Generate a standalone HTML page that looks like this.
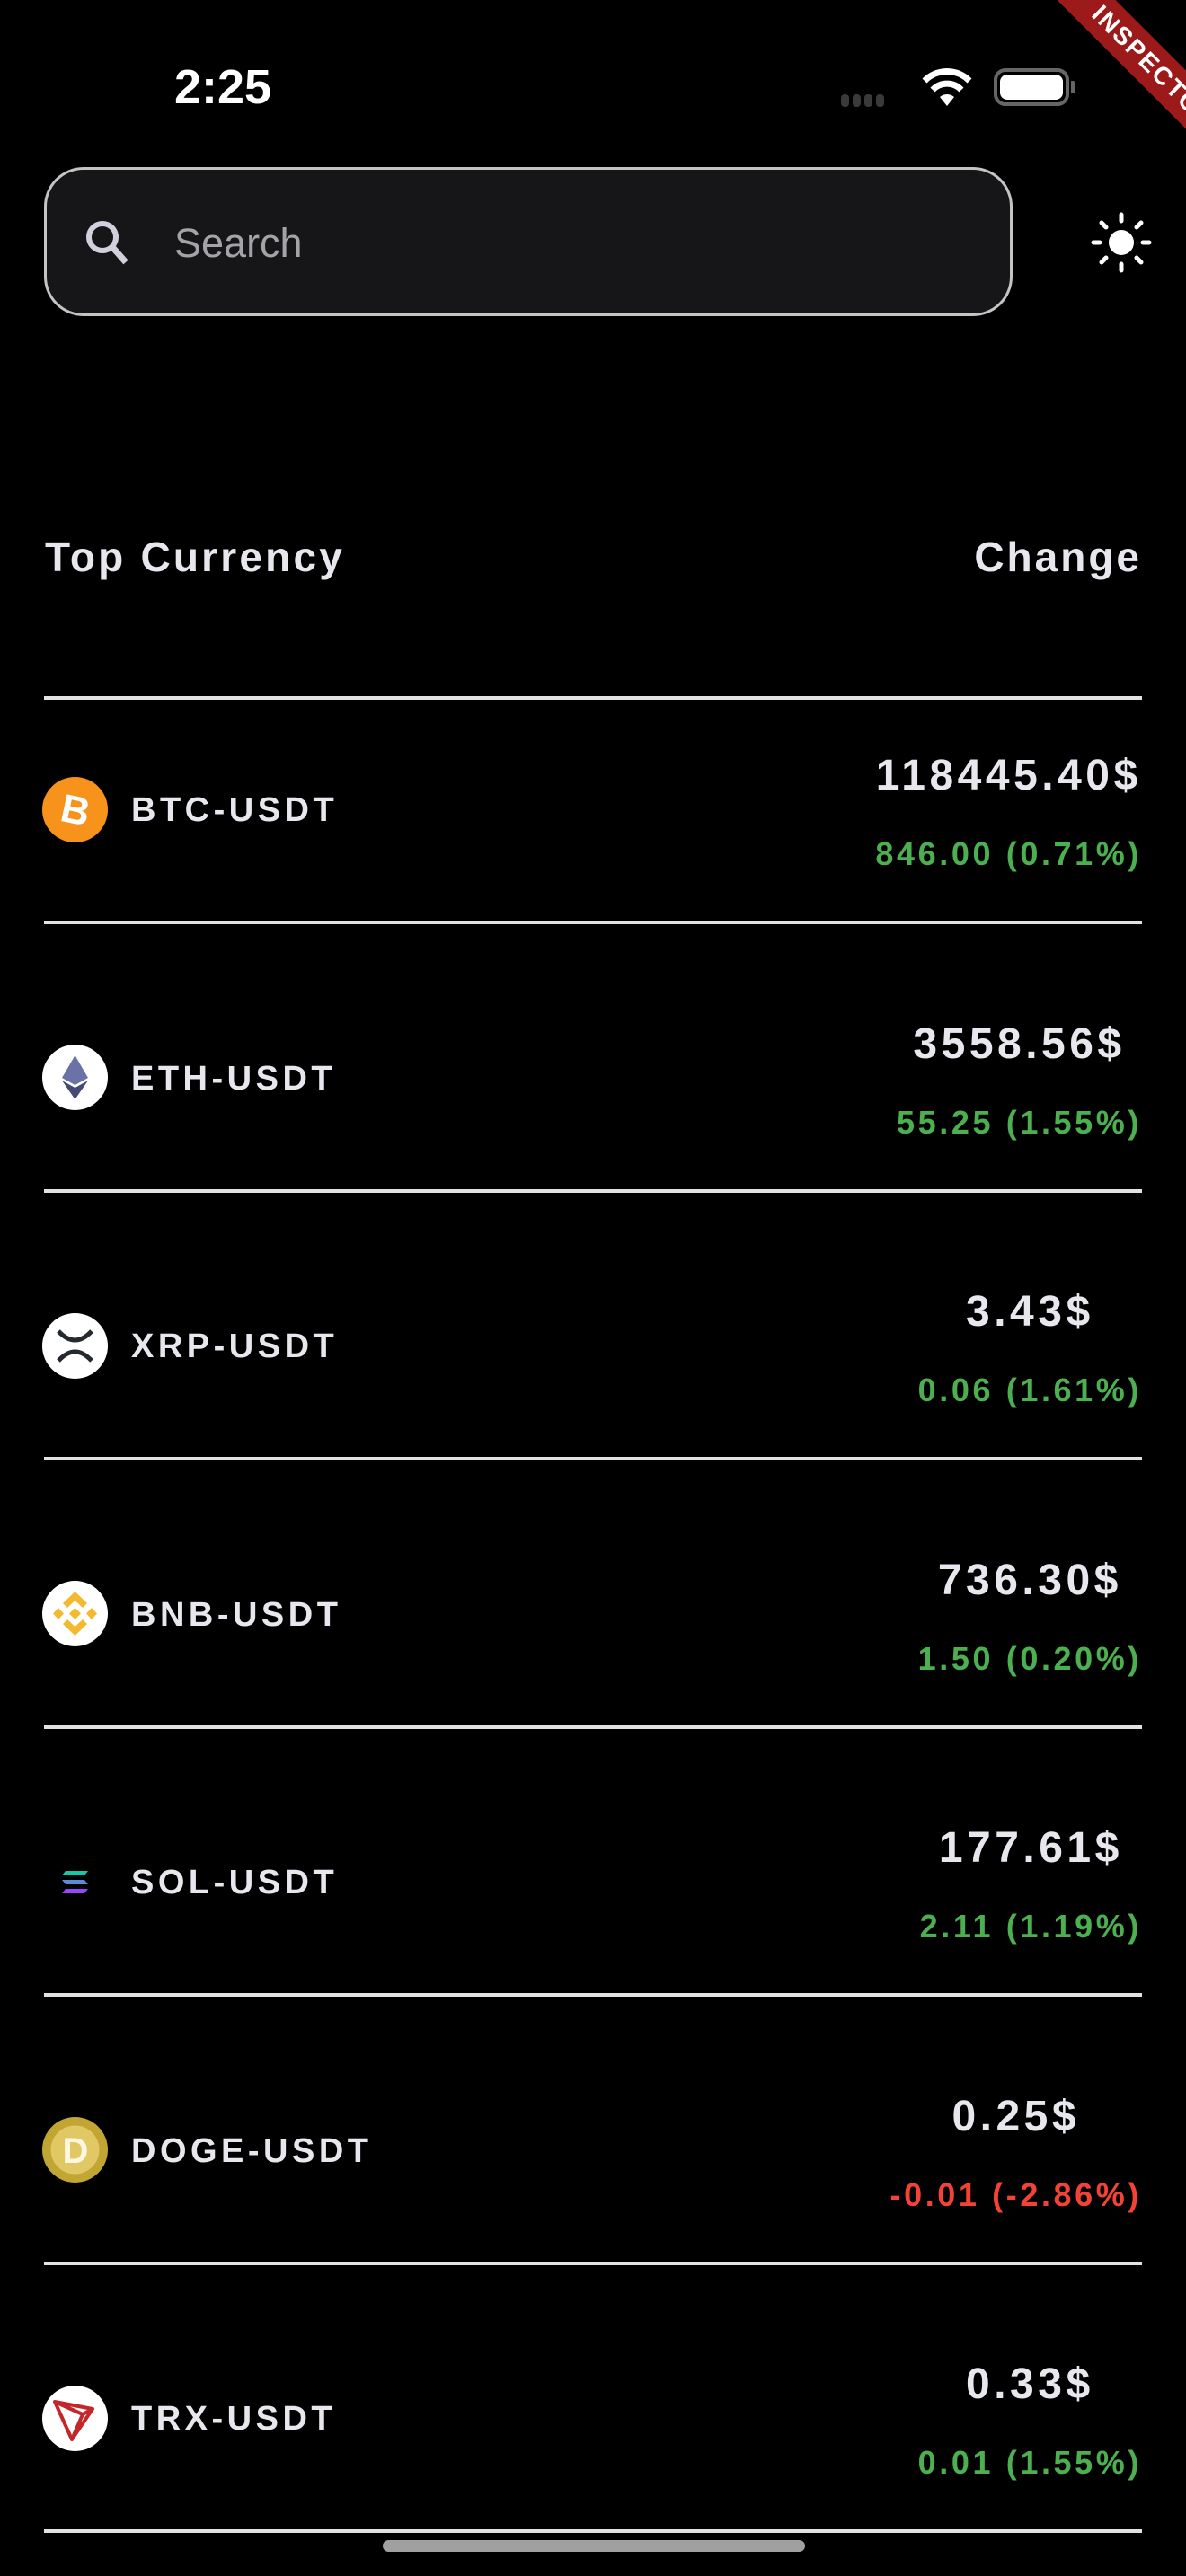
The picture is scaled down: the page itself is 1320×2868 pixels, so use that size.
<!DOCTYPE html>
<html><head><meta charset="utf-8">
<style>
*{margin:0;padding:0;box-sizing:border-box}
body{width:1320px;height:2868px;background:#000;position:relative;overflow:hidden;font-family:"Liberation Sans",sans-serif;color:#e9e7ee}
.abs{position:absolute}
.line{position:absolute;left:49px;width:1222px;height:4px;background:#e2e2e2}
.name{position:absolute;left:146px;font-weight:bold;font-size:38px;letter-spacing:4.5px;line-height:40px}
.col{position:absolute;right:49px;display:flex;flex-direction:column;align-items:center}
.price{font-weight:bold;font-size:48px;letter-spacing:4.5px;line-height:50px}
.chg{font-weight:bold;font-size:36px;letter-spacing:3.6px;line-height:40px;margin-top:42px}
.icon{position:absolute;left:47px;width:73px;height:73px;border-radius:50%}
</style></head><body>
<div class="abs" style="left:194px;top:66px;font-size:54px;font-weight:bold;color:#fff;line-height:62px">2:25</div>
<div class="abs" style="left:936px;top:105px;display:flex;gap:4px">
<div style="width:9px;height:14px;border-radius:4px;background:#3a3a3a"></div><div style="width:9px;height:14px;border-radius:4px;background:#3a3a3a"></div><div style="width:9px;height:14px;border-radius:4px;background:#3a3a3a"></div><div style="width:9px;height:14px;border-radius:4px;background:#3a3a3a"></div></div>
<svg class="abs" style="left:1024px;top:74px" width="60" height="46" viewBox="0 0 60 46"><path d="M30 44 L22 34 A12 12 0 0 1 38 34Z" fill="#fff"/><path d="M14 26 A22 22 0 0 1 46 26" stroke="#fff" stroke-width="7" fill="none"/><path d="M5 16 A35 35 0 0 1 55 16" stroke="#fff" stroke-width="7" fill="none"/></svg>
<div class="abs" style="left:1106px;top:76px;width:84px;height:42px;border:4px solid #666;border-radius:13px;padding:3px"><div style="width:100%;height:100%;background:#fff;border-radius:8px"></div></div>
<div class="abs" style="left:1192px;top:90px;width:5px;height:14px;background:#666;border-radius:0 3px 3px 0"></div>
<div class="abs" style="left:1124px;top:52px;width:320px;height:46px;background:#9c1a1a;transform:rotate(45deg);color:#fff;font-weight:bold;font-size:28px;letter-spacing:2px;text-align:center;line-height:46px">INSPECTOR</div>
<div class="abs" style="left:49px;top:186px;width:1078px;height:166px;border:3px solid #c4c4c4;border-radius:44px;background:#161618"></div>
<svg class="abs" style="left:92px;top:242px" width="56" height="56" viewBox="0 0 56 56"><circle cx="22" cy="22" r="15" stroke="#d4cfdc" stroke-width="6" fill="none"/><path d="M33 33 L48 50" stroke="#d4cfdc" stroke-width="7"/></svg>
<div class="abs" style="left:194px;top:243px;font-size:45px;color:#a4a3a8;line-height:56px">Search</div>
<svg class="abs" style="left:1214px;top:236px" width="68" height="68" viewBox="0 0 68 68"><circle cx="34" cy="34" r="14" fill="#fff"/><g stroke="#fff" stroke-width="5" stroke-linecap="round"><path d="M34 3v7M34 58v7M3 34h7M58 34h7M12 12l5 5M51 51l5 5M12 56l5-5M51 17l5-5"/></g></svg>
<div class="abs" style="left:50px;top:594px;font-size:46px;font-weight:bold;letter-spacing:3.2px;line-height:52px">Top Currency</div>
<div class="abs" style="right:49px;top:594px;font-size:46px;font-weight:bold;letter-spacing:3px;line-height:52px">Change</div>
<div id="list"></div>
<div class="abs" style="left:426px;top:2828px;width:470px;height:13px;border-radius:7px;background:#a0a0a0"></div>
<script>
const names=["BTC-USDT","ETH-USDT","XRP-USDT","BNB-USDT","SOL-USDT","DOGE-USDT","TRX-USDT"];
const prices=["118445.40$","3558.56$","3.43$","736.30$","177.61$","0.25$","0.33$"];
const changes=["846.00 (0.71%)","55.25 (1.55%)","0.06 (1.61%)","1.50 (0.20%)","2.11 (1.19%)","-0.01 (-2.86%)","0.01 (1.55%)"];
const icons={
BTC:'<svg width="73" height="73" viewBox="0 0 73 73"><circle cx="36.5" cy="36.5" r="36.5" fill="#f7931a"/><text x="37" y="52" font-size="44" font-weight="bold" fill="#fff" text-anchor="middle" font-family="Liberation Sans" transform="rotate(12 37 37)">B</text></svg>',
ETH:'<svg width="73" height="73" viewBox="0 0 73 73"><circle cx="36.5" cy="36.5" r="36.5" fill="#fff"/><path d="M36.5 12 L51 37 L36.5 45 L22 37Z" fill="#6a72a8"/><path d="M36.5 48 L51 40 L36.5 61 L22 40Z" fill="#454a75"/></svg>',
XRP:'<svg width="73" height="73" viewBox="0 0 73 73"><circle cx="36.5" cy="36.5" r="36.5" fill="#fff"/><path d="M18 20 Q36.5 40 55 20 M18 53 Q36.5 33 55 53" stroke="#23292f" stroke-width="5" fill="none"/></svg>',
BNB:'<svg width="73" height="73" viewBox="0 0 73 73"><circle cx="36.5" cy="36.5" r="36.5" fill="#fff"/><g fill="#f3ba2f"><path d="M36.5 12 L50 25 L45 30 L36.5 22 L28 30 L23 25Z"/><path d="M36.5 61 L50 48 L45 43 L36.5 51 L28 43 L23 48Z"/><path d="M36.5 30 L43 36.5 L36.5 43 L30 36.5Z"/><path d="M12 36.5 L18 30 L24 36.5 L18 43Z"/><path d="M61 36.5 L55 30 L49 36.5 L55 43Z"/></g></svg>',
SOL:'<svg width="73" height="73" viewBox="0 0 73 73"><path d="M26 24h25l-4 5H22z" fill="#14c8a8"/><path d="M22 34h25l4 5H26z" fill="#5a8ad8"/><path d="M26 44h25l-4 5H22z" fill="#9945ff"/></svg>',
DOGE:'<svg width="73" height="73" viewBox="0 0 73 73"><circle cx="36.5" cy="36.5" r="36.5" fill="#c2a633"/><circle cx="36.5" cy="36.5" r="27" fill="#e1c865"/><text x="37" y="51" font-size="40" font-weight="bold" fill="#fff8e0" text-anchor="middle" font-family="Liberation Sans">D</text></svg>',
TRX:'<svg width="73" height="73" viewBox="0 0 73 73"><circle cx="36.5" cy="36.5" r="36.5" fill="#fff"/><path d="M14 18 L56 26 L33 60 Z M14 18 L45 32 L56 26 M45 32 L33 60" stroke="#c4272a" stroke-width="4" fill="none" stroke-linejoin="round"/></svg>'
};
const list=document.getElementById('list');
const first=777,rowH=298.5;
function addLine(y,i){const l=document.createElement('div');l.className='line';l.style.top=(y-2)+'px';


list.appendChild(l);}
addLine(first,0);
names.forEach((n,i)=>{
  const off=i*rowH;
  const iconY=901+off,priceY=863+off;
  const sym=n.split('-')[0];
  const ic=document.createElement('div');ic.className='icon';ic.style.top=(iconY-36.5)+'px';ic.innerHTML=icons[sym];
  
  
  list.appendChild(ic);
  const nm=document.createElement('div');nm.className='name';nm.style.top=(iconY-19)+'px';nm.textContent=n;
  
  
  list.appendChild(nm);
  const col=document.createElement('div');col.className='col';col.style.top=(priceY-24)+'px';
  
  
  const p=document.createElement('div');p.className='price';p.textContent=prices[i];
  
  
  const c=document.createElement('div');c.className='chg';c.textContent=changes[i];
  c.style.color=changes[i].startsWith('-')?'#f44336':'#4caf50';
  
  
  col.appendChild(p);col.appendChild(c);list.appendChild(col);
  addLine(1027+i*rowH,i+1);
});
</script>
</body></html>
